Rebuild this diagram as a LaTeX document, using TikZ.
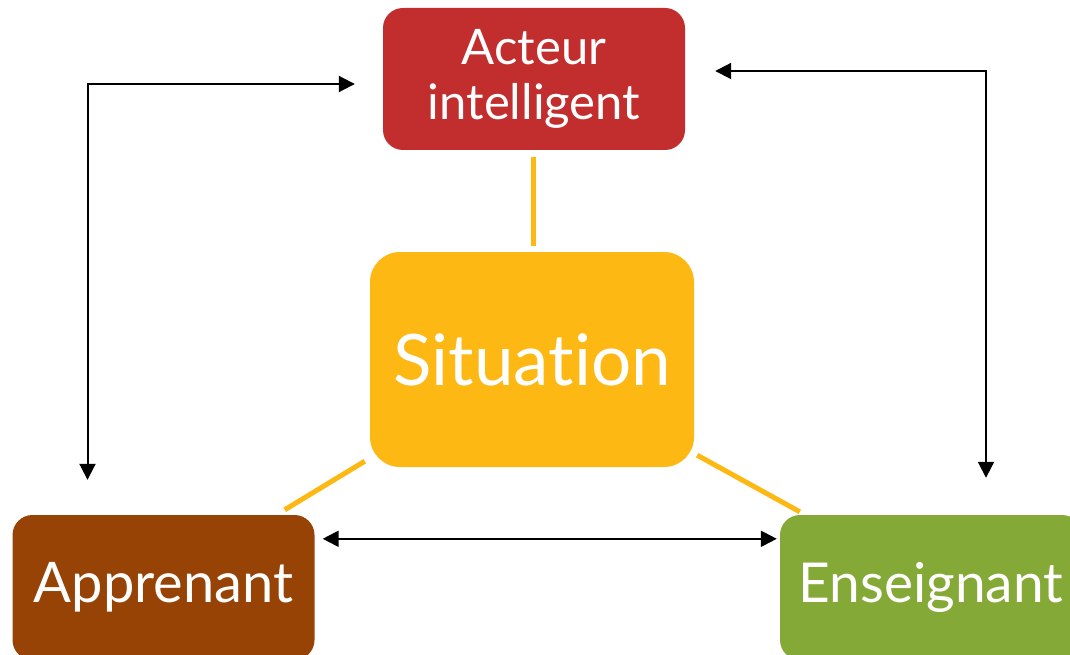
\documentclass[tikz,border=0pt]{standalone}
\usepackage{fontspec}
\setmainfont{Lato}[Ligatures=NoCommon]
\usetikzlibrary{arrows.meta}

\definecolor{acteurred}{HTML}{C22D2E}
\definecolor{situamber}{HTML}{FDB813}
\definecolor{apprbrown}{HTML}{974306}
\definecolor{enseigngreen}{HTML}{85A937}

\tikzset{
  pole/.style={
    rectangle,
    rounded corners=20pt,
    text=white,
    align=center,
    inner sep=0pt,
    minimum width=302pt,
    minimum height=145pt
  },
  tie/.style={situamber, line width=5pt},
  biarrow/.style={
    line width=2pt,
    {Triangle[length=16pt,width=16pt]}-{Triangle[length=16pt,width=16pt]}
  }
}

\begin{document}
\begin{tikzpicture}[x=1pt, y=-1pt]
    \clip (0,0) rectangle (1070,655);

    \node (act) [pole, fill=acteurred, minimum height=142pt,
      font=\fontsize{49}{55}\selectfont] at (534,79) {Acteur\\intelligent};
    \node (sit) [pole, fill=situamber, rounded corners=30pt,
      minimum width=324pt, minimum height=215pt,
      font=\fontsize{71}{80}\selectfont] at (532,359.5) {Situation};
    \node (app) [pole, fill=apprbrown,
      font=\fontsize{56}{60}\selectfont] at (163.5,587.5) {Apprenant};
    \node (ens) [pole, fill=enseigngreen,
      font=\fontsize{55}{60}\selectfont] at (931,587.5) {Enseignant};

    % liens vers la situation
    \draw[tie] ([shift={(-1,7)}]act.south) -- ([shift={(1,-6)}]sit.north);
    \draw[tie] ([shift={(-5,-6)}]sit.south west) -- ([shift={(-30,-5)}]app.north east);
    \draw[tie] ([shift={(3,-12)}]sit.south east) -- ([shift={(20,-3)}]ens.north west);

    % relations entre les acteurs
    \draw[biarrow] ([shift={(-28,5)}]act.west) -| ([shift={(-76,-35)}]app.north);
    \draw[biarrow] ([shift={(30,-8)}]act.east) -| ([shift={(55,-37)}]ens.north);
    \draw[biarrow] ([shift={(8,24)}]app.north east) -- ([shift={(-3,24)}]ens.north west);
\end{tikzpicture}
\end{document}
